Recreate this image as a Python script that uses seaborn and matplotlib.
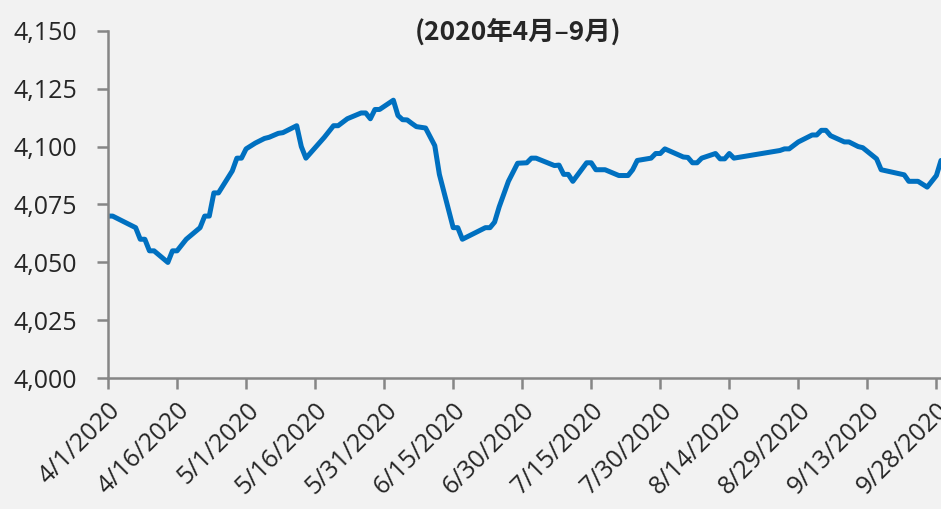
import pandas as pd
import matplotlib
matplotlib.use("Agg")
import matplotlib.pyplot as plt
import matplotlib.ticker as mticker
import seaborn as sns

# values (turning points of the daily series)
dates = ["2020-04-01", "2020-04-02", "2020-04-04", "2020-04-07", "2020-04-08", "2020-04-09",
         "2020-04-10", "2020-04-11", "2020-04-14", "2020-04-15", "2020-04-16", "2020-04-18",
         "2020-04-21", "2020-04-22", "2020-04-23", "2020-04-24", "2020-04-25", "2020-04-28",
         "2020-04-29", "2020-04-30", "2020-05-01", "2020-05-03", "2020-05-05", "2020-05-06",
         "2020-05-08", "2020-05-09", "2020-05-12", "2020-05-13", "2020-05-14", "2020-05-18",
         "2020-05-20", "2020-05-21", "2020-05-23", "2020-05-26", "2020-05-27", "2020-05-28",
         "2020-05-29", "2020-05-30", "2020-06-02", "2020-06-03", "2020-06-04", "2020-06-05",
         "2020-06-06", "2020-06-07", "2020-06-08", "2020-06-09", "2020-06-11", "2020-06-12",
         "2020-06-15", "2020-06-16", "2020-06-17", "2020-06-22", "2020-06-23", "2020-06-24",
         "2020-06-25", "2020-06-27", "2020-06-29", "2020-07-01", "2020-07-02", "2020-07-03",
         "2020-07-07", "2020-07-08", "2020-07-09", "2020-07-10", "2020-07-11", "2020-07-14",
         "2020-07-15", "2020-07-16", "2020-07-18", "2020-07-21", "2020-07-23", "2020-07-24",
         "2020-07-25", "2020-07-28", "2020-07-29", "2020-07-30", "2020-07-31", "2020-08-04",
         "2020-08-05", "2020-08-06", "2020-08-07", "2020-08-08", "2020-08-11", "2020-08-12",
         "2020-08-13", "2020-08-14", "2020-08-15", "2020-08-25", "2020-08-26", "2020-08-27",
         "2020-08-29", "2020-09-01", "2020-09-02", "2020-09-03", "2020-09-04", "2020-09-05",
         "2020-09-08", "2020-09-09", "2020-09-11", "2020-09-12", "2020-09-15", "2020-09-16",
         "2020-09-21", "2020-09-22", "2020-09-24", "2020-09-26", "2020-09-28", "2020-09-29"]

values = [4070, 4070, 4068, 4065, 4060, 4060,
          4055, 4055, 4050, 4055, 4055, 4060,
          4065, 4070, 4070, 4080, 4080, 4089.5,
          4095, 4095, 4099, 4101.5, 4103.5, 4104,
          4105.7, 4106, 4109, 4100, 4095, 4104,
          4109, 4109, 4112, 4114.5, 4114.5, 4112,
          4116, 4116, 4120, 4113.4, 4111.6, 4111.5,
          4110, 4108.6, 4108.3, 4108, 4100.4, 4088,
          4065, 4065, 4060, 4065, 4065, 4067.4,
          4074, 4085, 4092.8, 4093, 4095, 4095,
          4091.8, 4092, 4088, 4088, 4085, 4093,
          4093, 4090, 4090, 4087.5, 4087.5, 4090,
          4094, 4095, 4097, 4097, 4099, 4095.5,
          4095.3, 4093, 4093, 4095, 4097, 4094.7,
          4094.7, 4097, 4095, 4098.3, 4099, 4099,
          4102, 4105, 4105, 4107, 4107, 4104.7,
          4102, 4102, 4100, 4099.5, 4094.7, 4090,
          4087.8, 4085, 4085, 4082.5, 4087.5, 4094]

title = "(2020年4月–9月)"
y_ticks = [4000, 4025, 4050, 4075, 4100, 4125, 4150]
x_ticks = pd.date_range("2020-04-01", "2020-09-28", freq="15D")

bg = "#f2f2f2"
axis_grey = "#868686"

sns.set_theme(style="white")
plt.rcParams["font.family"] = ["Open Sans", "DejaVu Sans"]

df = pd.DataFrame({"date": pd.to_datetime(dates), "value": values})

fig = plt.figure(figsize=(9.41, 5.09), dpi=100, facecolor=bg)
ax = fig.add_axes([0.1148, 0.2568, 0.8852, 0.6829])
ax.set_facecolor(bg)

sns.lineplot(data=df, x="date", y="value", ax=ax, color="#0070c0", linewidth=3.6)

ax.set_xlim(pd.Timestamp("2020-04-01"), pd.Timestamp("2020-09-29"))
ax.set_ylim(4000, 4150)
ax.set_yticks(y_ticks)
ax.yaxis.set_major_formatter(mticker.FuncFormatter(lambda v, p: f"{int(v):,}"))
ax.set_xticks(x_ticks)
ax.set_xticklabels([f"{d.month}/{d.day}/{d.year}" for d in x_ticks],
                   rotation=45, ha="right", rotation_mode="anchor")

ax.set_xlabel("")
ax.set_ylabel("")
for s in ["top", "right"]:
    ax.spines[s].set_visible(False)
for s in ["left", "bottom"]:
    ax.spines[s].set_color(axis_grey)
    ax.spines[s].set_linewidth(1.8)

ax.tick_params(axis="y", direction="out", length=8, width=1.8, color=axis_grey,
               labelsize=18, pad=14, left=True)
ax.tick_params(axis="x", direction="out", length=8, width=1.8, color=axis_grey,
               labelsize=18, pad=6, bottom=True)

fig.text(0.551, 0.937, title, ha="center", va="center", fontsize=19, fontweight="bold",
         family=["Noto Sans CJK SC", "DejaVu Sans"])

fig.savefig("out.png", dpi=100, facecolor=bg)
